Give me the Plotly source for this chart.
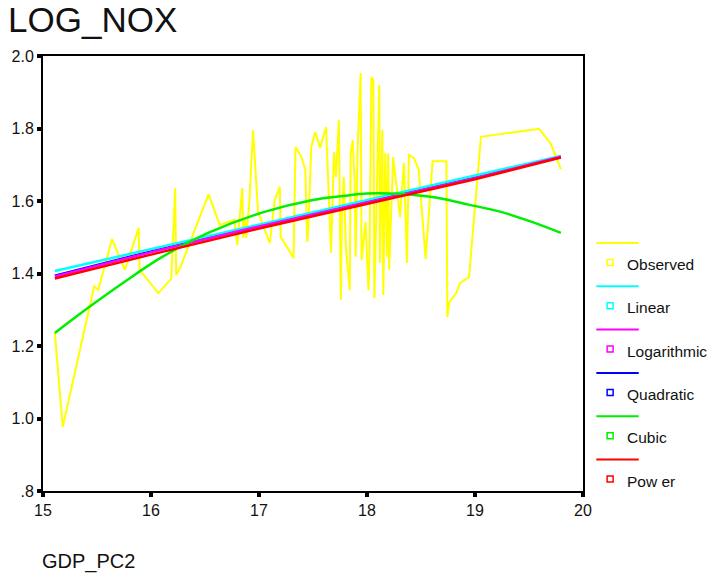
import plotly.graph_objects as go

# ---- data ----
obs_x = [15.110, 15.183, 15.475, 15.511, 15.639, 15.758, 15.886, 15.895, 16.068, 16.187,
         16.224, 16.233, 16.269, 16.534, 16.635, 16.772, 16.799, 16.817, 16.845, 16.854,
         16.872, 16.881, 16.909, 16.945, 16.991, 17.100, 17.146, 17.192, 17.201, 17.320,
         17.338, 17.393, 17.429, 17.447, 17.457, 17.484, 17.521, 17.566, 17.621, 17.667,
         17.694, 17.712, 17.740, 17.758, 17.767, 17.785, 17.804, 17.840, 17.849, 17.868,
         17.886, 17.895, 17.913, 17.941, 17.950, 17.986, 18.014, 18.023, 18.041, 18.059,
         18.068, 18.114, 18.120, 18.142, 18.151, 18.169, 18.187, 18.196, 18.205, 18.242,
         18.306, 18.342, 18.370, 18.388, 18.434, 18.479, 18.543, 18.607, 18.735, 18.744,
         18.763, 18.826, 18.863, 18.945, 19.055, 19.594, 19.703, 19.795]
obs_y = [1.236, 0.977, 1.366, 1.354, 1.495, 1.410, 1.526, 1.410, 1.346, 1.385,
         1.636, 1.396, 1.415, 1.619, 1.534, 1.548, 1.479, 1.548, 1.636, 1.498,
         1.548, 1.498, 1.589, 1.796, 1.570, 1.484, 1.603, 1.639, 1.501, 1.443,
         1.749, 1.721, 1.686, 1.487, 1.528, 1.749, 1.790, 1.746, 1.804, 1.457,
         1.735, 1.666, 1.823, 1.327, 1.556, 1.666, 1.473, 1.354, 1.732, 1.768,
         1.650, 1.446, 1.741, 1.953, 1.437, 1.542, 1.354, 1.446, 1.942, 1.934,
         1.332, 1.920, 1.429, 1.796, 1.341, 1.732, 1.446, 1.732, 1.410, 1.721,
         1.556, 1.705, 1.429, 1.727, 1.719, 1.686, 1.440, 1.710, 1.710, 1.280,
         1.321, 1.346, 1.374, 1.390, 1.777, 1.799, 1.757, 1.688]

fit_x = [15.11, 16.0, 17.0, 18.0, 19.0, 19.795]
linear_y = [1.407, 1.467, 1.535, 1.603, 1.670, 1.724]
log_y = [1.392, 1.459, 1.530, 1.597, 1.663, 1.722]
quad_y = [1.394, 1.461, 1.531, 1.598, 1.664, 1.721]
power_y = [1.386, 1.452, 1.524, 1.592, 1.660, 1.720]

cubic_x = [15.11, 15.43, 15.76, 16.10, 16.53, 17.05, 17.5, 17.78, 18.0, 18.3,
           18.55, 18.72, 18.94, 19.24, 19.54, 19.795]
cubic_y = [1.236, 1.308, 1.378, 1.445, 1.512, 1.570, 1.603, 1.614, 1.621, 1.620,
           1.613, 1.605, 1.590, 1.570, 1.541, 1.512]

x_ticks = [15, 16, 17, 18, 19, 20]
y_ticks = [0.8, 1.0, 1.2, 1.4, 1.6, 1.8, 2.0]
y_ticktext = [".8", "1.0", "1.2", "1.4", "1.6", "1.8", "2.0"]

legend_names = ["Observed", "Linear", "Logarithmic", "Quadratic", "Cubic", "Pow er"]
legend_colors = ["#ffff00", "#00ffff", "#ff00ff", "#0000ff", "#00ee00", "#ff0000"]

FONT = "Liberation Sans, Arial, sans-serif"

fig = go.Figure()
fig.add_trace(go.Scatter(x=obs_x, y=obs_y, mode="lines",
                         line=dict(color=legend_colors[0], width=2), showlegend=False))
fig.add_trace(go.Scatter(x=fit_x, y=quad_y, mode="lines",
                         line=dict(color=legend_colors[3], width=2.5), showlegend=False))
fig.add_trace(go.Scatter(x=fit_x, y=linear_y, mode="lines",
                         line=dict(color=legend_colors[1], width=2.5), showlegend=False))
fig.add_trace(go.Scatter(x=fit_x, y=log_y, mode="lines",
                         line=dict(color=legend_colors[2], width=2.5), showlegend=False))
fig.add_trace(go.Scatter(x=cubic_x, y=cubic_y, mode="lines", line_shape="spline",
                         line=dict(color=legend_colors[4], width=2.5), showlegend=False))
fig.add_trace(go.Scatter(x=fit_x, y=power_y, mode="lines",
                         line=dict(color=legend_colors[5], width=2.5), showlegend=False))

# plot area in pixels
L, R, T, B = 36, 583.5, 56, 491
W = R - L
H = B - T

def px_x(px):
    return (px - L) / W

def px_y(py):
    return (B - py) / H

shapes = []
annotations = []
for i, (name, col) in enumerate(zip(legend_names, legend_colors)):
    ly = 243 + i * 43.3
    sy = ly + 19.5
    shapes.append(dict(type="line", xref="paper", yref="paper",
                       x0=px_x(597), x1=px_x(640), y0=px_y(ly), y1=px_y(ly),
                       line=dict(color=col, width=2)))
    shapes.append(dict(type="rect", xref="paper", yref="paper",
                       xsizemode="pixel", ysizemode="pixel",
                       xanchor=px_x(611), yanchor=px_y(sy),
                       x0=-3, x1=3, y0=-3, y1=3,
                       line=dict(color=col, width=1.5), fillcolor="rgba(0,0,0,0)"))
    annotations.append(dict(text=name, xref="paper", yref="paper",
                            x=px_x(626), y=px_y(sy + 2), xanchor="left", yanchor="middle",
                            showarrow=False, font=dict(family=FONT, size=15.5, color="#111111")))

annotations.append(dict(text="GDP_PC2", xref="paper", yref="paper",
                        x=px_x(33), y=px_y(561), xanchor="left", yanchor="middle",
                        showarrow=False, font=dict(family=FONT, size=20, color="#111111")))

fig.update_layout(
    width=715, height=575,
    margin=dict(l=L, r=715 - R, t=T, b=575 - B),
    paper_bgcolor="white", plot_bgcolor="white",
    title=dict(text="LOG_NOX", x=8 / 715, xanchor="left", xref="container",
               y=1 - 20 / 575, yanchor="middle", yref="container",
               font=dict(family=FONT, size=35, color="#111111")),
    shapes=shapes, annotations=annotations,
    showlegend=False,
)
fig.update_xaxes(range=[15, 20], tickvals=x_ticks, ticktext=[str(v) for v in x_ticks],
                 showgrid=False, zeroline=False, showline=True, linecolor="black",
                 linewidth=2, mirror=True, ticks="outside", ticklen=4, tickwidth=4,
                 tickcolor="black", tickfont=dict(family=FONT, size=16, color="#111111"))
fig.update_yaxes(range=[0.8, 2.0], tickvals=y_ticks, ticktext=y_ticktext,
                 showgrid=False, zeroline=False, showline=True, linecolor="black",
                 linewidth=2, mirror=True, ticks="outside", ticklen=4, tickwidth=4,
                 tickcolor="black", tickfont=dict(family=FONT, size=16, color="#111111"))

fig.write_html("out.html")
